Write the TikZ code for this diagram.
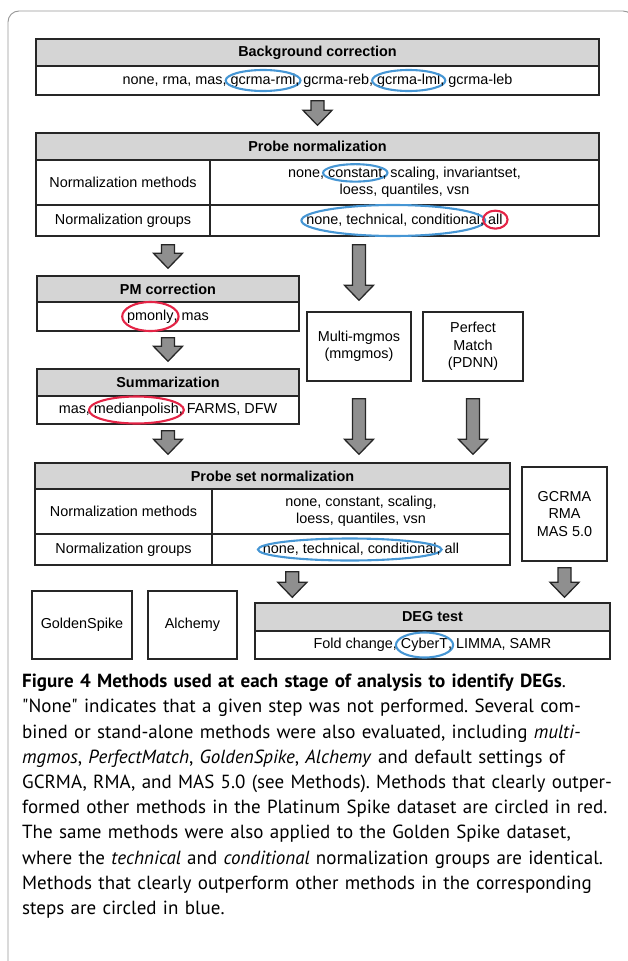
\documentclass[tikz,border=0pt]{standalone}
\usepackage{fontspec}
\setmainfont{Liberation Sans}
\newfontfamily\capfont{PT Sans}
\usetikzlibrary{calc}

% circled word inside a cell
\newcommand{\ring}[3][10pt]{%
  \tikz[baseline=(w.base)]{\node[draw=none, fill=none, inner sep=0pt, outer sep=0pt,
      minimum width=0pt, minimum height=0pt, anchor=center] (w) {#3};
    \draw[line width=2.1pt, #2, overlay] let \p1=($(w.east)-(w.west)$) in
      (w.center) ellipse ({0.5*\x1+5pt} and #1);}}
% grey block arrow, drawn downwards at the x of the target
\newcommand{\fatarrow}[2]{%
  \filldraw[fill=arrowgray, draw=black!85, line width=1.3pt]
    let \p1=(#1), \p2=(#2) in
    (\x2-6.5pt,\y1) -- (\x2+6.5pt,\y1) -- (\x2+6.5pt,\y2+15pt) -- (\x2+14.5pt,\y2+15pt)
    -- (\x2,\y2) -- (\x2-14.5pt,\y2+15pt) -- (\x2-6.5pt,\y2+15pt) -- cycle;}

\begin{document}
\begin{tikzpicture}[x=1pt, y=-1pt, line join=miter,
    cell/.style={draw=black!85, line width=1.4pt, inner sep=0pt, align=center,
      font=\fontsize{14.4}{17.5}\selectfont},
    head/.style={cell, fill=headgray, font=\bfseries\fontsize{14.4}{17.5}\selectfont}]
  \definecolor{headgray}{RGB}{213,213,213}
  \definecolor{arrowgray}{RGB}{143,143,143}
  \definecolor{ringblue}{RGB}{70,150,212}
  \definecolor{ringred}{RGB}{228,36,70}
  \definecolor{framegray}{RGB}{150,150,150}
  \useasboundingbox (0,0) rectangle (628,961);
  \draw[framegray, line width=0.9pt, rounded corners=11pt] (8,961) -- (8,11) -- (634,11) -- (634,40);

  % background correction
  \node[head, minimum width=563pt, minimum height=27pt] (bghead) at (317.5,52.5) {Background correction};
  \node[cell, minimum width=563pt, minimum height=29pt] (bgrow) at (317.5,80.5)
    {none, rma, mas, \ring[10.5pt]{ringblue}{gcrma-rml}, gcrma-reb, \ring[10.5pt]{ringblue}{gcrma-lml}, gcrma-leb};

  % probe normalization
  \node[head, minimum width=563pt, minimum height=27pt] (pnhead) at (317.5,146.5) {Probe normalization};
  \node[cell, minimum width=174pt, minimum height=45pt] (pnmlab) at (123,182.5) {Normalization methods};
  \node[cell, minimum width=389pt, minimum height=45pt] (pnmval) at (404.5,182.5)
    {none, \ring[8.7pt]{ringblue}{constant}, scaling, invariantset,\\ loess, quantiles, vsn};
  \node[cell, minimum width=174pt, minimum height=31pt] (pnglab) at (123,220.5) {Normalization groups};
  \node[cell, minimum width=389pt, minimum height=31pt] (pngval) at (404.5,220.5)
    {\ring[15.5pt]{ringblue}{none, technical, conditional}, \ring[9pt]{ringred}{all}};

  % PM correction and summarization
  \node[head, minimum width=262pt, minimum height=26pt] (pmhead) at (168,289) {PM correction};
  \node[cell, minimum width=262pt, minimum height=29pt] (pmrow) at (168,316.5) {\ring[14.5pt]{ringred}{pmonly}, mas};
  \node[head, minimum width=262pt, minimum height=27pt] (sumhead) at (168,382.5) {Summarization};
  \node[cell, minimum width=262pt, minimum height=28pt] (sumrow) at (168,410)
    {mas, \ring[13.5pt]{ringred}{medianpolish}, FARMS, DFW};

  % combined methods
  \node[cell, minimum width=104pt, minimum height=69pt] (mmgmos) at (359,346.5) {Multi-mgmos\\(mmgmos)};
  \node[cell, minimum width=100pt, minimum height=69pt] (pdnn) at (473,346.5) {Perfect\\Match\\(PDNN)};

  % probe set normalization
  \node[head, minimum width=475pt, minimum height=26pt] (psnhead) at (272.5,476) {Probe set normalization};
  \node[cell, minimum width=177pt, minimum height=45pt] (psnmlab) at (123.5,511.5) {Normalization methods};
  \node[cell, minimum width=298pt, minimum height=45pt] (psnmval) at (361,511.5)
    {none, constant, scaling,\\ loess, quantiles, vsn};
  \node[cell, minimum width=177pt, minimum height=31pt] (psnglab) at (123.5,549.5) {Normalization groups};
  \node[cell, minimum width=298pt, minimum height=31pt] (psngval) at (361,549.5)
    {\ring[11pt]{ringblue}{none, technical, conditional}, all};
  \node[cell, minimum width=85pt, minimum height=94pt] (gcrma) at (564.5,514) {GCRMA\\RMA\\MAS 5.0};

  % bottom row
  \node[cell, minimum width=100pt, minimum height=68pt] (golden) at (82,625) {GoldenSpike};
  \node[cell, minimum width=89pt, minimum height=68pt] (alchemy) at (192.5,625) {Alchemy};
  \node[head, minimum width=355pt, minimum height=28pt] (deghead) at (432.5,617) {DEG test};
  \node[cell, minimum width=355pt, minimum height=28pt] (degrow) at (432.5,645)
    {Fold change, \ring[12.5pt]{ringblue}{CyberT}, LIMMA, SAMR};
  \coordinate (degin) at ($(deghead.north west)+(38,-5)$);

  % arrows
  \fatarrow{$(bgrow.south)+(0,5)$}{$(pnhead.north)+(0,-7)$}
  \fatarrow{$(pmhead.north |- pngval.south)+(0,8)$}{$(pmhead.north)+(0,-7)$}
  \fatarrow{$(pngval.south)+(0,8)$}{$(mmgmos.north)+(0,-11)$}
  \fatarrow{$(pmrow.south)+(0,6)$}{$(sumhead.north)+(0,-7)$}
  \fatarrow{$(sumrow.south)+(0,6)$}{$(sumrow.south |- psnhead.north)+(0,-8)$}
  \fatarrow{$(mmgmos.south)+(0,17)$}{$(mmgmos.south |- psnhead.north)+(0,-8)$}
  \fatarrow{$(pdnn.south)+(0,17)$}{$(pdnn.south |- psnhead.north)+(0,-8)$}
  \fatarrow{$(degin |- psngval.south)+(0,6)$}{degin}
  \fatarrow{$(gcrma.south)+(0,6)$}{$(gcrma.south |- deghead.north)+(0,-5)$}

  % caption
  \node[anchor=north west, inner sep=0pt, text width=606pt, align=left,
    font=\capfont\frenchspacing\fontsize{19}{25.2}\selectfont] (caption) at (22,674)
    {\textbf{Figure 4 Methods used at each stage of analysis to identify DEGs}.\\
     "None" indicates that a given step was not performed. Several com-\\
     bined or stand-alone methods were also evaluated, including \textit{multi-}\\
     \textit{mgmos}, \textit{PerfectMatch}, \textit{GoldenSpike}, \textit{Alchemy} and default settings of\\
     GCRMA, RMA, and MAS 5.0 (see Methods). Methods that clearly outper-\\
     formed other methods in the Platinum Spike dataset are circled in red.\\
     The same methods were also applied to the Golden Spike dataset,\\
     where the \textit{technical} and \textit{conditional} normalization groups are identical.\\
     Methods that clearly outperform other methods in the corresponding\\
     steps are circled in blue.};
\end{tikzpicture}
\end{document}
